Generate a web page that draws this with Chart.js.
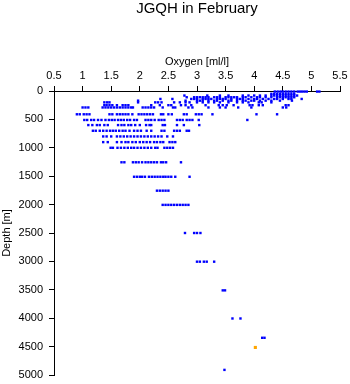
<!DOCTYPE html>
<html>
<head>
<meta charset="utf-8">
<script src="https://cdn.jsdelivr.net/npm/chart.js@4"></script>
<style>
  body { margin: 0; background: #fff; }
  #wrap { width: 350px; height: 384px; }
</style>
</head>
<body>
<div id="wrap"><canvas id="oxygenChart" width="350" height="384"></canvas></div>
<script>
// x tick labels and axis ranges
const oxygenTicks = [0.5, 1, 1.5, 2, 2.5, 3, 3.5, 4, 4.5, 5, 5.5];
const depthTicks = [0, 500, 1000, 1500, 2000, 2500, 3000, 3500, 4000, 4500, 5000];

// upper layer, 0-300 m: one list of oxygen readings per depth
const shallowDepths = [10, 50, 80, 110, 140, 170, 200, 250, 290];
const shallowOxygen = [
  [4.36, 4.41, 4.46, 4.5, 4.55, 4.6, 4.65, 4.7, 4.76, 4.8, 4.84, 4.88, 4.92, 5.1, 5.14],
  [4.3, 4.35, 4.4, 4.45, 4.5, 4.55, 4.6, 4.65, 4.7],
  [2.78, 3.18, 3.4, 3.55, 3.8, 3.9, 4.0, 4.1, 4.2, 4.3, 4.35, 4.4, 4.45, 4.5, 4.55, 4.6, 4.65, 4.7, 4.75],
  [2.82, 2.95, 3.0, 3.05, 3.1, 3.15, 3.2, 3.3, 3.35, 3.4, 3.5, 3.55, 3.6, 3.65, 3.7, 3.8, 3.85, 3.95, 4.05, 4.1, 4.2, 4.3, 4.4, 4.45, 4.5, 4.55, 4.6, 4.65, 4.7],
  [2.36, 2.57, 2.9, 2.95, 3.0, 3.1, 3.15, 3.2, 3.25, 3.35, 3.4, 3.45, 3.5, 3.6, 3.7, 3.75, 3.8, 3.9, 4.0, 4.05, 4.15, 4.25, 4.35, 4.4, 4.5, 4.6, 4.65, 4.83],
  [1.97, 2.8, 3.0, 3.05, 3.1, 3.2, 3.3, 3.35, 3.45, 3.55, 3.6, 3.7, 3.8, 3.85, 3.95, 4.0, 4.1, 4.2, 4.3, 4.45, 4.66],
  [1.38, 1.43, 1.47, 1.97, 2.27, 2.32, 2.38, 2.6, 2.7, 2.8, 2.87, 3.0, 3.1, 3.2, 3.3, 3.4, 3.55, 3.7, 3.8, 3.9, 4.08, 4.13, 4.3],
  [1.38, 1.42, 1.47, 1.52, 1.6, 1.7, 1.75, 1.8, 2.2, 2.35, 2.5, 2.55, 2.72, 2.8, 2.9, 3.15, 3.38, 3.45, 3.52, 3.64, 3.92, 3.97, 4.08, 4.15, 4.55, 4.6],
  [1.0, 1.05, 1.1, 1.35, 1.4, 1.45, 1.5, 1.55, 1.6, 1.65, 1.7, 1.75, 1.8, 1.85, 1.88, 2.05, 2.1, 2.15, 2.2, 2.25, 2.4, 2.58, 2.62, 2.85, 2.92, 3.2, 3.4, 3.5, 3.72, 3.95, 4.5, 4.56]
];

// deeper sampling levels
const deepDepths = [410, 510, 600, 700, 800, 900, 1000, 1255, 1510, 1755, 2005, 2500, 3005, 3510, 4005, 4345, 4910];
const deepOxygen = [
  [0.9, 0.95, 1.02, 1.07, 1.12, 1.47, 1.52, 1.6, 1.65, 1.7, 1.75, 1.8, 1.87, 1.98, 2.03, 2.08, 2.13, 2.18, 2.23, 2.37, 2.41, 2.5, 2.56, 2.77, 2.82, 2.98, 3.03, 3.08, 3.27, 4.04, 4.4],
  [1.03, 1.08, 1.15, 1.2, 1.27, 1.33, 1.4, 1.46, 1.51, 1.56, 1.62, 1.67, 1.72, 1.78, 1.83, 1.9, 1.95, 2.1, 2.15, 2.2, 2.26, 2.33, 2.38, 2.43, 2.65, 2.7, 2.75, 2.82, 2.87, 2.92, 3.03, 3.88],
  [1.1, 1.17, 1.25, 1.3, 1.38, 1.44, 1.62, 1.68, 1.73, 1.8, 1.85, 1.92, 2.0, 2.11, 2.17, 2.2, 2.4, 2.44, 2.65, 2.77, 3.04],
  [1.18, 1.23, 1.3, 1.36, 1.42, 1.48, 1.53, 1.58, 1.64, 1.7, 1.75, 1.82, 1.9, 1.96, 2.02, 2.12, 2.2, 2.38, 2.43, 2.6, 2.65, 2.7, 2.82, 2.86],
  [1.36, 1.42, 1.5, 1.6, 1.66, 1.72, 1.78, 1.84, 1.9, 1.96, 2.02, 2.08, 2.14, 2.2, 2.26, 2.32, 2.38, 2.48, 2.58],
  [1.36, 1.44, 1.6, 1.68, 1.75, 1.8, 1.87, 1.93, 2.0, 2.06, 2.12, 2.18, 2.25, 2.3, 2.36, 2.41, 2.52, 2.57, 2.62],
  [1.49, 1.53, 1.61, 1.67, 1.73, 1.79, 1.85, 1.9, 1.96, 2.02, 2.08, 2.14, 2.2, 2.27, 2.31, 2.43, 2.48, 2.53, 2.58],
  [1.68, 1.73, 1.88, 1.93, 1.98, 2.04, 2.1, 2.15, 2.2, 2.25, 2.3, 2.37, 2.41, 2.46, 2.72],
  [1.9, 1.95, 2.0, 2.04, 2.09, 2.16, 2.21, 2.26, 2.31, 2.36, 2.41, 2.45, 2.5, 2.55, 2.62, 2.87],
  [2.3, 2.35, 2.4, 2.45, 2.5],
  [2.4, 2.45, 2.5, 2.55, 2.6, 2.65, 2.7, 2.75, 2.8, 2.85],
  [2.79, 2.95, 3.0, 3.06],
  [3.0, 3.05, 3.12, 3.17, 3.3],
  [3.45, 3.49],
  [3.62, 3.76],
  [4.14, 4.18],
  [3.48]
];

// the one flagged sample (orange)
const flaggedOxygen = [4.02];
const flaggedDepth = [4515];

function toPoints(depths, oxygen) {
  return depths.flatMap((d, i) => oxygen[i].map(o => ({ x: o, y: d })));
}

const blueData = toPoints(shallowDepths, shallowOxygen).concat(toPoints(deepDepths, deepOxygen));
const orangeData = flaggedOxygen.map((o, i) => ({ x: o, y: flaggedDepth[i] }));

const fontFamily = '"Liberation Sans", Arial, sans-serif';

const ctx = document.getElementById('oxygenChart').getContext('2d');
const oxygenChart = new Chart(ctx, {
  type: 'scatter',
  data: {
    datasets: [{
      data: blueData,
      backgroundColor: '#0000ff',
      pointStyle: 'rect',
      pointRadius: 1.7,
      borderWidth: 0,
      clip: false
    }, {
      data: orangeData,
      backgroundColor: '#ffa500',
      pointStyle: 'rect',
      pointRadius: 2.2,
      borderWidth: 0,
      clip: false
    }]
  },
  options: {
    responsive: false,
    animation: false,
    layout: { padding: { top: 0, left: 0, right: 10, bottom: 9 } },
    plugins: {
      legend: { display: false },
      tooltip: { enabled: false },
      title: {
        display: true,
        text: 'JGQH in February',
        fullSize: false,
        color: '#000',
        font: { family: fontFamily, size: 15, weight: 'normal' },
        padding: { top: 0, bottom: 13 }
      }
    },
    scales: {
      x: {
        type: 'linear',
        position: 'top',
        min: 0.5,
        max: 5.5,
        afterBuildTicks: s => { s.ticks = oxygenTicks.map(v => ({ value: v })); },
        afterFit: s => { s.height = 60; s.paddingLeft = 0; s.paddingRight = 0; },
        ticks: {
          color: '#000',
          padding: 3,
          maxRotation: 0,
          font: { family: fontFamily, size: 11 },
          callback: v => String(v)
        },
        grid: { drawOnChartArea: false, drawTicks: true, tickLength: 5, color: '#000' },
        border: { display: true, color: '#000', width: 1 },
        title: {
          display: true,
          text: 'Oxygen [ml/l]',
          color: '#000',
          font: { family: fontFamily, size: 11 },
          padding: { top: 24, bottom: 0 }
        }
      },
      y: {
        type: 'linear',
        reverse: true,
        min: 0,
        max: 5000,
        afterBuildTicks: s => { s.ticks = depthTicks.map(v => ({ value: v })); },
        afterFit: s => { s.width = 54; s.paddingTop = 0; s.paddingBottom = 0; },
        ticks: {
          color: '#000',
          padding: 6,
          font: { family: fontFamily, size: 11 },
          callback: v => String(v)
        },
        grid: { drawOnChartArea: false, drawTicks: true, tickLength: 5, color: '#000' },
        border: { display: true, color: '#000', width: 1 },
        title: {
          display: true,
          text: 'Depth [m]',
          color: '#000',
          font: { family: fontFamily, size: 11 },
          padding: { top: 0, bottom: 0 }
        }
      }
    }
  }
});
</script>
</body>
</html>
